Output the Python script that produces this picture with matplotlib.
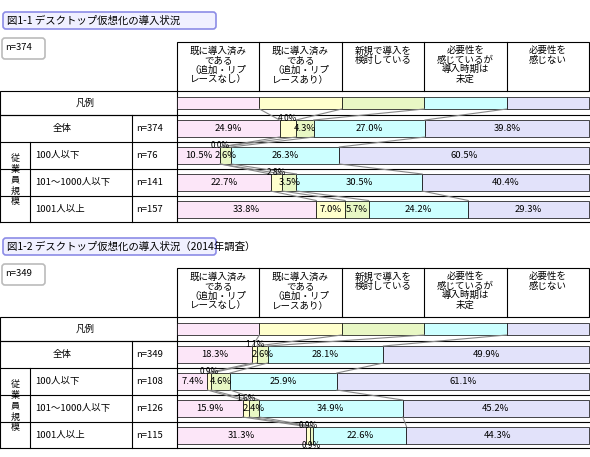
import matplotlib.pyplot as plt
from matplotlib.patches import Rectangle, FancyBboxPatch

plt.rcParams['font.family'] = ['Noto Sans CJK JP', 'DejaVu Sans']

# データ
categories = ['既に導入済み\nである\n（追加・リプ\nレースなし）', '既に導入済み\nである\n（追加・リプ\nレースあり）',
              '新規で導入を\n検討している', '必要性を\n感じているが\n導入時期は\n未定', '必要性を\n感じない']
row_labels = ['全体', '100人以下', '101～1000人以下', '1001人以上']
titles = ['図1-1 デスクトップ仮想化の導入状況', '図1-2 デスクトップ仮想化の導入状況（2014年調査）']
n_total = ['n=374', 'n=349']
n_rows_1 = ['n=374', 'n=76', 'n=141', 'n=157']
n_rows_2 = ['n=349', 'n=108', 'n=126', 'n=115']
values_1 = [[24.9, 4.0, 4.3, 27.0, 39.8],
            [10.5, 0.0, 2.6, 26.3, 60.5],
            [22.7, 2.8, 3.5, 30.5, 40.4],
            [33.8, 7.0, 5.7, 24.2, 29.3]]
values_2 = [[18.3, 1.1, 2.6, 28.1, 49.9],
            [7.4, 0.9, 4.6, 25.9, 61.1],
            [15.9, 1.6, 2.4, 34.9, 45.2],
            [31.3, 0.9, 0.9, 22.6, 44.3]]

colors = ['#fce6f8', '#ffffcc', '#e8f7c4', '#ccffff', '#e2e2fa']
X0, X1 = 177, 589
W = X1 - X0

fig = plt.figure(figsize=(5.9, 4.57), dpi=100)
ax = fig.add_axes([0, 0, 1, 1])
ax.set_xlim(0, 590)
ax.set_ylim(457, 0)
ax.axis('off')
FS = 6.8


def xpos(p):
    return X0 + W * p / 100


def panel(oy, title, ntot, nrows, values):
    # タイトル
    ax.add_patch(FancyBboxPatch((3, oy + 12), 213, 17, boxstyle='round,pad=0,rounding_size=3',
                                fc='#f0f0ff', ec='#8c8ce6', lw=1.2))
    ax.text(7, oy + 20.5, title, fontsize=7.5, va='center')
    ax.add_patch(FancyBboxPatch((2, oy + 38), 43, 21, boxstyle='round,pad=0,rounding_size=3',
                                fc='white', ec='#bbbbbb', lw=1.2))
    ax.text(5, oy + 48, ntot, fontsize=FS, va='center')
    # ヘッダ
    cols = [X0 + W * i / 5 for i in range(6)]
    ax.add_patch(Rectangle((X0, oy + 42), W, 49, fc='white', ec='black', lw=0.8))
    for i in range(5):
        if i:
            ax.plot([cols[i]] * 2, [oy + 42, oy + 91], color='black', lw=0.8)
        ax.text((cols[i] + cols[i + 1]) / 2, oy + 46, categories[i], fontsize=FS,
                ha='center', va='top', linespacing=1.05)
    # 凡例
    ax.add_patch(Rectangle((0, oy + 91), X0, 24, fc='white', ec='black', lw=0.8))
    ax.text(85, oy + 103, '凡例', fontsize=FS, ha='center', va='center')
    for i in range(5):
        ax.add_patch(Rectangle((cols[i], oy + 97), W / 5, 12, fc=colors[i], ec='black', lw=0.5))
    # 行
    rows = [(115, 142), (142, 169), (169, 196), (196, 222)]
    for (a, b) in rows:
        ax.plot([0, X1], [oy + a, oy + a], color='black', lw=0.8)
    ax.plot([0, X1], [oy + 222, oy + 222], color='black', lw=0.8)
    ax.plot([0, 0], [oy + 115, oy + 222], color='black', lw=0.8)
    ax.plot([132, 132], [oy + 115, oy + 222], color='black', lw=0.8)
    ax.plot([X0, X0], [oy + 115, oy + 222], color='black', lw=0.8)
    ax.plot([30, 30], [oy + 142, oy + 222], color='black', lw=0.8)
    ax.text(15, oy + 180, '従\n業\n員\n規\n模', fontsize=6.5, ha='center', va='center', linespacing=1.25)
    ax.text(62, oy + 128.5, row_labels[0], fontsize=FS, ha='center', va='center')
    for r, (a, b) in enumerate(rows):
        yc = oy + (a + b) / 2
        if r:
            ax.text(35, yc, row_labels[r], fontsize=FS, va='center')
        ax.text(136, yc, nrows[r], fontsize=FS, va='center')
        vals = values[r]
        left = 0
        for k, v in enumerate(vals):
            ax.barh(yc, W * v / 100, left=xpos(left), height=17, color=colors[k], ec='black', lw=0.5)
            cx = xpos(left + v / 2)
            if k == 1 and v < 5:
                ax.text(cx, yc - 10, f'{v:.1f}%', fontsize=6, ha='center', va='center')
            elif k == 2 and v < 2:
                ax.text(cx, yc + 10, f'{v:.1f}%', fontsize=6, ha='center', va='center')
            else:
                ax.text(cx, yc, f'{v:.1f}%', fontsize=FS, ha='center', va='center')
            left += v
    # 接続線
    prev_x = cols[1:5]
    prev_y = oy + 109
    for r, (a, b) in enumerate(rows):
        yc = oy + (a + b) / 2
        cum = 0
        xs = []
        for v in values[r][:4]:
            cum += v
            xs.append(xpos(cum))
        for px, nx in zip(prev_x, xs):
            ax.plot([px, nx], [prev_y, yc - 8.5], color='#888888', lw=0.8)
        prev_x, prev_y = xs, yc + 8.5


panel(0, titles[0], n_total[0], n_rows_1, values_1)
panel(226, titles[1], n_total[1], n_rows_2, values_2)

fig.savefig('out.png', dpi=100)
